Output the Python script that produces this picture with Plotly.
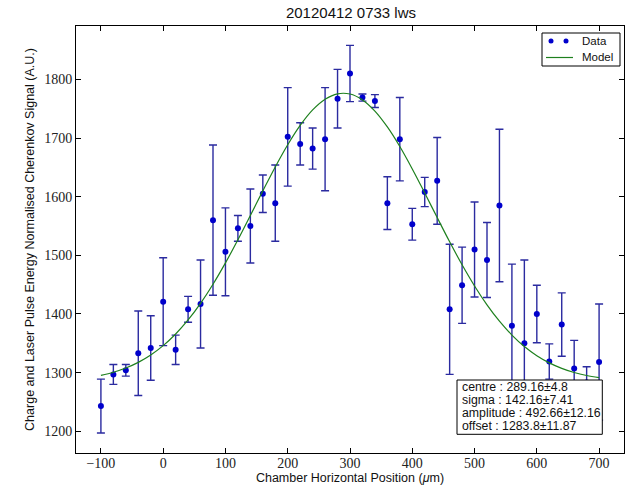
import plotly.graph_objects as go

# Data
positions = [-100, -80, -60, -40, -20, 0, 20, 40, 60, 80, 100, 120, 140, 160, 180,
             200, 220, 240, 260, 280, 300, 320, 340, 360, 380, 400, 420, 440, 460,
             480, 500, 520, 540, 560, 580, 600, 620, 640, 660, 680, 700]
signal = [1243, 1297, 1304, 1333, 1342, 1421, 1339, 1408, 1417, 1560, 1506, 1546,
          1550, 1605, 1589, 1702, 1690, 1682, 1698, 1767, 1810, 1769, 1763, 1589,
          1698, 1553, 1608, 1627, 1408, 1449, 1510, 1492, 1585, 1380, 1350, 1400,
          1319, 1382, 1307, 1283, 1318]
signal_err = [46, 17, 10, 72, 55, 75, 25, 22, 75, 128, 75, 22, 63, 32, 65, 84, 36,
              35, 88, 50, 48, 6, 11, 45, 71, 27, 25, 74, 111, 65, 81, 64, 130, 105,
              142, 49, 30, 54, 48, 27, 99]

# Model curve values
model_pos = positions
model_val = [1295.4, 1300.7, 1307.9, 1317.5, 1330.1, 1346.0, 1365.9, 1389.8, 1418.1,
             1450.7, 1487.1, 1526.5, 1567.9, 1609.9, 1650.7, 1688.5, 1721.5, 1747.9,
             1766.2, 1775.4, 1775.0, 1765.0, 1746.0, 1718.9, 1685.5, 1647.3, 1606.4,
             1564.4, 1523.1, 1483.9, 1447.8, 1415.6, 1387.7, 1364.1, 1344.5, 1328.9,
             1316.7, 1307.3, 1300.2, 1295.1, 1291.4]

fit_lines = ["centre : 289.16\u00b14.8",
             "sigma : 142.16\u00b17.41",
             "amplitude : 492.66\u00b112.16",
             "offset : 1283.8\u00b111.87"]
legend_labels = ["Data", "Model"]

x_ticks = [-100, 0, 100, 200, 300, 400, 500, 600, 700]
x_tick_text = ["\u2212100", "0", "100", "200", "300", "400", "500", "600", "700"]
y_ticks = [1200, 1300, 1400, 1500, 1600, 1700, 1800]

DATA_MARKER = "#0000cc"
ERR_COLOR = "#2b2ba0"
MODEL_COLOR = "#1e801e"

fig = go.Figure()
fig.add_trace(go.Scatter(
    x=positions, y=signal, mode="markers", name=legend_labels[0],
    marker=dict(color=DATA_MARKER, size=6),
    error_y=dict(type="data", array=signal_err, visible=True,
                 color=ERR_COLOR, thickness=1.4, width=4),
))
fig.add_trace(go.Scatter(
    x=model_pos, y=model_val, mode="lines", name=legend_labels[1],
    line=dict(color=MODEL_COLOR, width=1.2, shape="spline"),
))

axis_common = dict(
    showline=True, linecolor="black", linewidth=1, mirror="ticks",
    ticks="inside", ticklen=5, tickcolor="black", showgrid=False, zeroline=False,
    automargin=False,
    tickfont=dict(family="Liberation Serif", size=14, color="#222"),
)

W, H = 629, 492
ML, MR, MT, MB = 76, 5, 26, 39
PW, PH = W - ML - MR, H - MT - MB


def px(xp):
    return (xp - ML) / PW


def py(yp):
    return (H - MB - yp) / PH


fig.update_layout(
    width=W, height=H,
    margin=dict(l=ML, r=MR, t=MT, b=MB),
    paper_bgcolor="white", plot_bgcolor="white",
    title=dict(text="20120412 0733 lws", xref="container", x=0.558, xanchor="center",
               yref="container", y=1 - 13 / H, yanchor="middle", automargin=False,
               font=dict(family="Liberation Sans", size=15, color="#111")),
    xaxis=dict(range=[-140, 740], tickvals=x_ticks, ticktext=x_tick_text,
               ticklabelstandoff=-3,
               title=dict(text="Chamber Horizontal Position (<i>\u03bc</i>m)",
                          font=dict(family="Liberation Sans", size=12.5, color="#111"),
                          standoff=2),
               **axis_common),
    yaxis=dict(range=[1163, 1891], tickvals=y_ticks,
               title=dict(text="Charge and Laser Pulse Energy Normalised Cherenkov Signal (A.U.)",
                          font=dict(family="Liberation Sans", size=12.5, color="#111"),
                          standoff=6),
               **axis_common),
    showlegend=False,
)

# Legend box (matplotlib style: two dots for Data, a short line for Model)
fig.add_shape(type="rect", xref="paper", yref="paper",
              x0=px(542), x1=px(620), y0=py(66), y1=py(33),
              line=dict(color="black", width=1), fillcolor="white", layer="above")
for cx in (551, 566):
    fig.add_shape(type="circle", xref="paper", yref="paper",
                  x0=px(cx - 2.5), x1=px(cx + 2.5), y0=py(41 + 2.5), y1=py(41 - 2.5),
                  line=dict(color=DATA_MARKER, width=0), fillcolor=DATA_MARKER,
                  layer="above")
fig.add_shape(type="line", xref="paper", yref="paper",
              x0=px(546), x1=px(573), y0=py(57.5), y1=py(57.5),
              line=dict(color=MODEL_COLOR, width=1.2), layer="above")
for i, lab in enumerate(legend_labels):
    fig.add_annotation(xref="paper", yref="paper", x=px(580), y=py(41 + 16.5 * i),
                       xanchor="left", yanchor="middle", text=lab, showarrow=False,
                       font=dict(family="Liberation Sans", size=11.5, color="#111"))

# Fit-result box: white rectangle with one text line per parameter
fig.add_shape(type="rect", xref="paper", yref="paper",
              x0=px(457), x1=px(602.3), y0=py(434.3), y1=py(380),
              line=dict(color="black", width=1), fillcolor="white", layer="above")
for i, txt in enumerate(fit_lines):
    fig.add_annotation(
        xref="paper", yref="paper", x=px(460), y=py(386.5 + 13.1 * i),
        xanchor="left", yanchor="middle", text=txt, showarrow=False, align="left",
        font=dict(family="Liberation Sans", size=12.3, color="#111"),
    )

fig.write_html("out.html", config={"displayModeBar": False},
               post_script="document.body.style.margin='0';")
